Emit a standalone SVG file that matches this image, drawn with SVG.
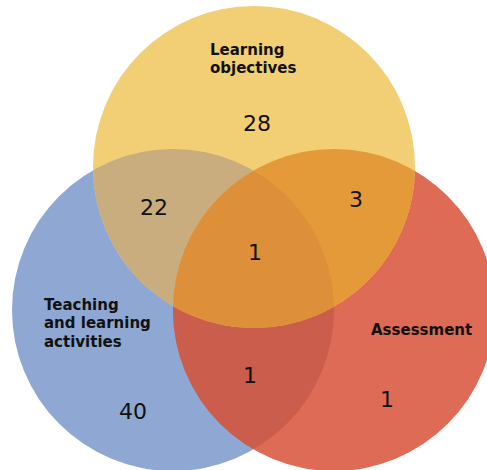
<svg xmlns="http://www.w3.org/2000/svg" width="487" height="470" viewBox="0 0 487 470">
<style>
.lbl{font-family:"DejaVu Sans","Verdana",sans-serif;font-weight:bold;font-size:15px;fill:#111}
.num{font-family:"DejaVu Sans","Verdana",sans-serif;font-size:22px;fill:#111;text-anchor:middle}
</style>
<defs>
<clipPath id="cY"><circle cx="254" cy="167" r="161"/></clipPath>
<clipPath id="cB"><circle cx="173" cy="310" r="161"/></clipPath>
<clipPath id="cR"><circle cx="334" cy="310" r="161"/></clipPath>
</defs>
<rect width="487" height="470" fill="#fff"/>
<g id="teaching">
<circle cx="173" cy="310" r="161" fill="#8EA7D3"/>
</g>
<g id="assessment">
<circle cx="334" cy="310" r="161" fill="#DE6B56"/>
</g>
<g id="objectives">
<circle cx="254" cy="167" r="161" fill="#F2CF75"/>
</g>
<g id="overlaps">
<g clip-path="url(#cB)"><circle cx="334" cy="310" r="161" fill="#CA5D4C"/></g>
<g clip-path="url(#cB)"><circle cx="254" cy="167" r="161" fill="#C9AD7E"/></g>
<g clip-path="url(#cR)"><circle cx="254" cy="167" r="161" fill="#E49A38"/></g>
<g clip-path="url(#cR)"><g clip-path="url(#cB)"><circle cx="254" cy="167" r="161" fill="#DE8F39"/></g></g>
</g>
<g id="labels">
<text class="lbl" x="210" y="55">Learning</text>
<text class="lbl" x="210" y="73">objectives</text>
<text class="lbl" x="44" y="310">Teaching</text>
<text class="lbl" x="44" y="328">and learning</text>
<text class="lbl" x="44" y="347">activities</text>
<text class="lbl" x="371" y="335">Assessment</text>
<text class="num" x="257" y="131">28</text>
<text class="num" x="154" y="215">22</text>
<text class="num" x="356" y="207">3</text>
<text class="num" x="255" y="260">1</text>
<text class="num" x="250" y="383">1</text>
<text class="num" x="387" y="407">1</text>
<text class="num" x="133" y="419">40</text>
</g>
</svg>
